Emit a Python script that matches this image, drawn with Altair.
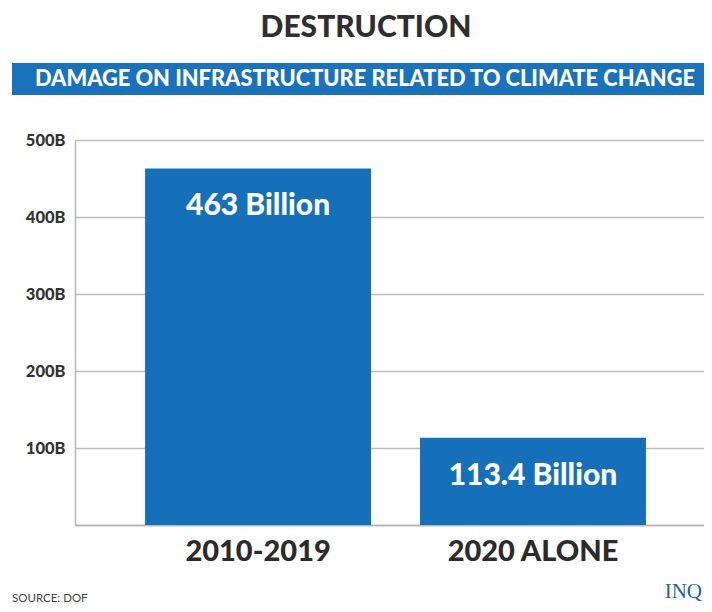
import altair as alt
import pandas as pd

# ---- data ----
periods = ["2010-2019", "2020 ALONE"]
damage_billion = [463, 113.4]
bar_labels = ["463 Billion", "113.4 Billion"]
y_ticks = [0, 100, 200, 300, 400, 500]

title_text = "DESTRUCTION"
banner_text = "DAMAGE ON INFRASTRUCTURE RELATED TO CLIMATE CHANGE"
source_text = "SOURCE: DOF"
logo_text = "INQ"

df = pd.DataFrame({"period": periods, "value": damage_billion, "label": bar_labels})

BLUE = "#1670b9"
FONT = "Lato"

x_enc = alt.X(
    "period:N",
    sort=periods,
    scale=alt.Scale(paddingInner=0.178, paddingOuter=0.233, align=0.547),
    axis=alt.Axis(
        title=None, labelAngle=0, labelFont=FONT, labelFontWeight=900,
        labelFontSize=29, labelColor="#2b2b2b", labelPadding=12,
        ticks=False, domainColor="#b5b5b5", domainWidth=1.5, grid=False,
    ),
)
y_enc = alt.Y(
    "value:Q",
    scale=alt.Scale(domain=[0, 500], nice=False),
    axis=alt.Axis(
        title=None, values=y_ticks, labelExpr="datum.value == 0 ? '' : datum.value + 'B'",
        labelFont=FONT, labelFontWeight=900, labelFontSize=16.5, labelColor="#333333",
        labelPadding=10, ticks=False, domainColor="#b5b5b5", domainWidth=1.5,
        gridColor="#bdbdbd", gridWidth=1.5,
    ),
)

base = alt.Chart(df)

bars = base.mark_bar(color=BLUE).encode(x=x_enc, y=y_enc)

bar_text = base.mark_text(
    color="white", font=FONT, fontWeight=900, fontSize=30, baseline="middle", dy=38
).encode(x=alt.X("period:N", sort=periods), y="value:Q", text="label:N")

# decorations (page-level furniture)
deco = pd.DataFrame({"k": [0]})
banner = alt.Chart(deco).mark_rect(color="#1a72bb").encode(
    x=alt.value(-63), x2=alt.value(640), y=alt.value(-77), y2=alt.value(-45)
)
banner_t = alt.Chart(deco).mark_text(
    text=banner_text, color="white", font=FONT, fontWeight=900, fontSize=21.8,
    align="center", baseline="middle",
).encode(x=alt.value(290), y=alt.value(-61))
title_t = alt.Chart(deco).mark_text(
    text=title_text, color="#2f2f2f", font=FONT, fontWeight=900, fontSize=30,
    align="center", baseline="middle",
).encode(x=alt.value(291), y=alt.value(-112))
source_t = alt.Chart(deco).mark_text(
    text=source_text, color="#444444", font=FONT, fontSize=11.5,
    align="left", baseline="middle",
).encode(x=alt.value(-63), y=alt.value(459))
logo_t = alt.Chart(deco).mark_text(
    text=logo_text, color="#1f63a8", font="Liberation Serif", fontSize=21,
    align="right", baseline="middle",
).encode(x=alt.value(627), y=alt.value(452))

chart = alt.layer(bars, bar_text, banner, banner_t, title_t, source_t, logo_t).properties(
    width=629, height=385,
    autosize=alt.AutoSizeParams(type="none"),
    padding={"left": 67, "top": 132, "right": 0, "bottom": 80},
).configure_view(stroke=None, clip=False).configure(background="white")

chart.save("out.html", embed_options={"renderer": "svg", "actions": False})
